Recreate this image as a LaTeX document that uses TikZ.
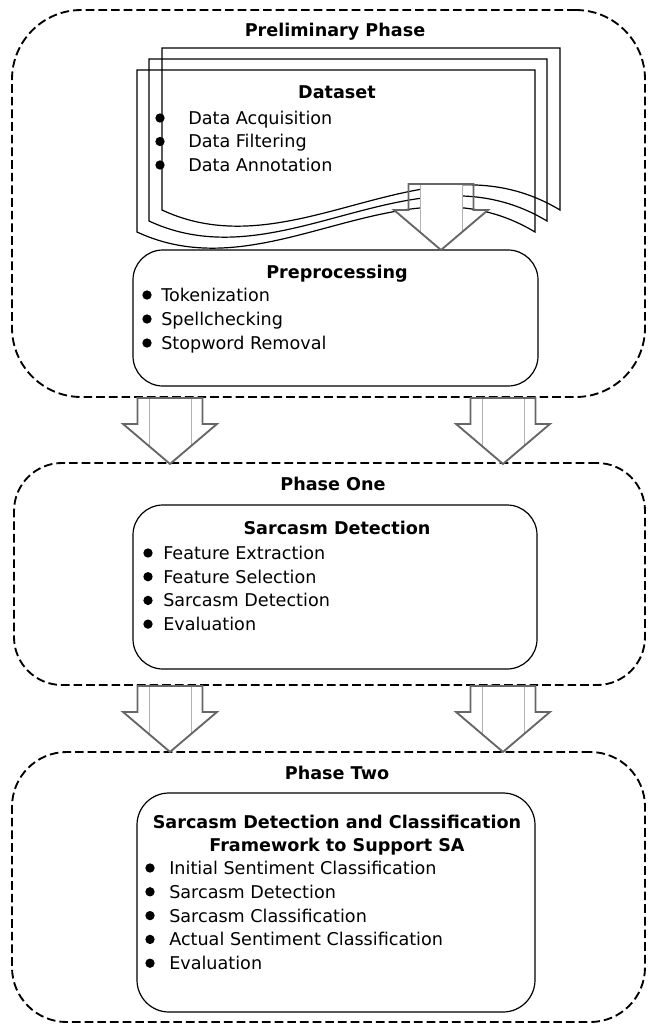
\documentclass[tikz,border=0pt]{standalone}
\usepackage{fontspec}
\setmainfont{DejaVu Sans}
\begin{document}
\begin{tikzpicture}[x=0.75pt,y=-0.75pt,
  phasebox/.style={draw=black, line width=1.4pt, dash pattern=on 6.5pt off 3pt,
                   rounded corners=#1, inner sep=0pt},
  stagebox/.style={draw=black, line width=0.9pt, fill=white, rounded corners=22.5pt, inner sep=0pt},
  docline/.style={draw=black, line width=0.9pt},
  arrowline/.style={draw=black!60, line width=1.4pt, line join=miter},
  innerline/.style={draw=black!30, line width=0.5pt},
  txt/.style={inner sep=0pt, text height=9.6pt, text depth=0pt,
              font=\fontsize{13.2}{16}\selectfont},
  ttl/.style={txt, font=\bfseries\fontsize{13.2}{16}\selectfont},
  item/.style={txt, anchor=west},
  dot/.style={fill=black},
  blockarrow/.pic={
    \fill[white] (-21,0) -- (21,0) -- (21,26) -- (47,26) -- (0,66) -- (-47,26) -- (-21,26) -- cycle;
    \draw[innerline] (-21,0) -- (-21,48) (21,0) -- (21,48);
    \draw[arrowline] (-32.5,0) -- (32.5,0) -- (32.5,26) -- (47,26) -- (0,66) -- (-47,26) -- (-32.5,26) -- cycle;
  }
]
\useasboundingbox (0,0) rectangle (650,1025);

% ---------- stacked dataset sheets (wavy bottom) ----------
\foreach \sx/\sy in {162/48,149/59,137/70}{
  \begin{scope}[shift={(\sx,\sy)}]
    \draw[docline] (0,0) -- (398,0) -- (398,162)
      .. controls (265,82) and (133,224) .. (0,162) -- cycle;
  \end{scope}
}
\node[ttl] (dataset) at (337,92) {Dataset};
\foreach \t [count=\i] in {Data Acquisition, Data Filtering, Data Annotation}{
  \pgfmathsetmacro{\yy}{118+23.5*(\i-1)}
  \fill[dot] (160,\yy) circle[radius=3.5pt];
  \node[item] (ds\i) at (188,\yy) {\t};
}

% ---------- preprocessing ----------
\node[stagebox, minimum width=303.75pt, minimum height=102pt] (prep) at (335.5,318) {};
\node[ttl] (preptitle) at (337,272) {Preprocessing};
\foreach \t [count=\i] in {Tokenization, Spellchecking, Stopword Removal}{
  \pgfmathsetmacro{\yy}{295+24*(\i-1)}
  \fill[dot] (147,\yy) circle[radius=3.5pt];
  \node[item] (pp\i) at (161,\yy) {\t};
}
\pic at (441,184) {blockarrow};

% ---------- phase one ----------
\node[stagebox, minimum width=303pt, minimum height=123pt] (sd) at (335,587) {};
\node[ttl] (sdtitle) at (337,528) {Sarcasm Detection};
\foreach \t [count=\i] in {Feature Extraction, Feature Selection, Sarcasm Detection, Evaluation}{
  \pgfmathsetmacro{\yy}{553+23.7*(\i-1)}
  \fill[dot] (148,\yy) circle[radius=3.5pt];
  \node[item] (sd\i) at (163,\yy) {\t};
}

% ---------- phase two ----------
\node[stagebox, minimum width=298.5pt, minimum height=164.25pt, rounded corners=24pt] (fw) at (336,902.5) {};
\node[ttl] (fwtitle1) at (337,822) {Sarcasm Detection and Classification};
\node[ttl] (fwtitle2) at (337,845) {Framework to Support SA};
\foreach \t [count=\i] in {Initial Sentiment Classification, Sarcasm Detection, Sarcasm Classification, Actual Sentiment Classification, Evaluation}{
  \pgfmathsetmacro{\yy}{868+23.8*(\i-1)}
  \fill[dot] (150,\yy) circle[radius=3.5pt];
  \node[item] (fw\i) at (169,\yy) {\t};
}

% ---------- phase frames ----------
\coordinate (colL) at (170,0);
\coordinate (colR) at (503,0);
\node[phasebox=52pt, minimum width=474.75pt, minimum height=290.25pt] (prelim) at (328.5,203.5) {};
\node[phasebox=36pt, minimum width=473.25pt, minimum height=166.5pt] (one) at (329.5,574) {};
\node[phasebox=41pt, minimum width=474.75pt, minimum height=202.5pt] (two) at (328.5,887) {};
\node[ttl] (prelimtitle) at (335,30) {Preliminary Phase};
\node[ttl] (onetitle) at (333,484) {Phase One};
\node[ttl] (twotitle) at (337,773) {Phase Two};

% ---------- arrows between phases ----------
\pic at (colL |- prelim.south) {blockarrow};
\pic at (colR |- prelim.south) {blockarrow};
\pic at (colL |- one.south) {blockarrow};
\pic at (colR |- one.south) {blockarrow};
\end{tikzpicture}
\end{document}
